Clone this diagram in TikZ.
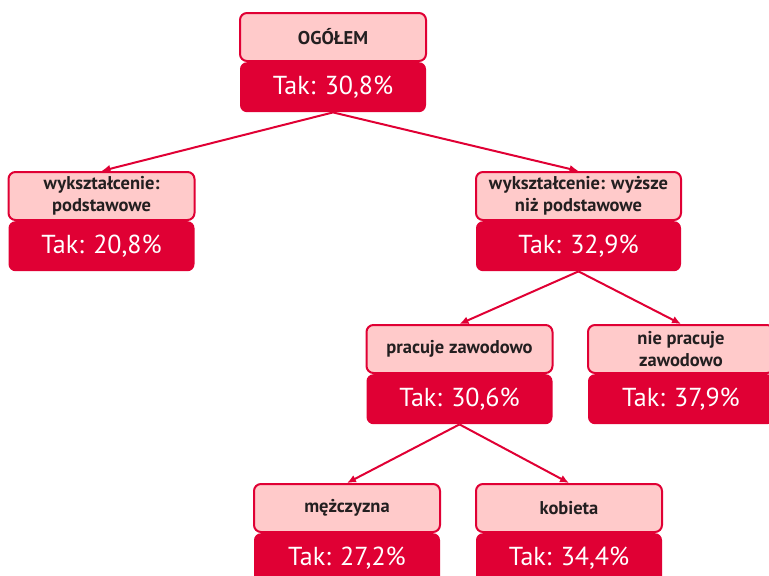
\documentclass[tikz,border=0pt]{standalone}
\usepackage{fontspec}
\setmainfont{PT Sans}
\usetikzlibrary{positioning,arrows.meta}

\definecolor{treered}{HTML}{E00034}
\definecolor{treepink}{HTML}{FFCACA}
\definecolor{treetext}{HTML}{231F20}

\begin{document}
\begin{tikzpicture}[
  x=1pt, y=-1pt,
  lab/.style={rectangle, rounded corners=7pt, draw=treered, line width=2pt,
    fill=treepink, minimum width=186pt, minimum height=48pt, anchor=north,
    inner sep=2pt, align=center, text=treetext,
    font=\bfseries\fontsize{18.5}{22.5}\selectfont},
  val/.style={rectangle, rounded corners=7pt, fill=treered,
    minimum width=186pt, minimum height=50pt, text=white,
    font=\fontsize{26}{30}\selectfont},
  arr/.style={draw=treered, line width=2pt, -{Latex[length=9pt,width=8pt]}}
  ]
\useasboundingbox (0,0) rectangle (769,576);

% top
\node[lab] (ogolem) at (333,12) {OGÓŁEM};
\node[val, below=0pt of ogolem] (ogolem-tak) {Tak: 30,8\%};

% education
\node[lab] (podst) at (101.5,171) {wykształcenie:\\podstawowe};
\node[val, below=0pt of podst] (podst-tak) {Tak: 20,8\%};

\node[lab, minimum width=205pt] (wyzsze) at (578.5,171)
    {wykształcenie: wyższe\\niż podstawowe};
\node[val, minimum width=205pt, below=0pt of wyzsze] (wyzsze-tak) {Tak: 32,9\%};

% work
\node[lab] (pracuje) at (459.5,324) {pracuje zawodowo};
\node[val, below=0pt of pracuje] (pracuje-tak) {Tak: 30,6\%};

\node[lab] (niepracuje) at (681,324) {nie pracuje\\zawodowo};
\node[val, below=0pt of niepracuje] (niepracuje-tak) {Tak: 37,9\%};

% sex
\node[lab] (mezczyzna) at (347,483) {mężczyzna};
\node[val, below=0pt of mezczyzna] (mezczyzna-tak) {Tak: 27,2\%};

\node[lab] (kobieta) at (569,483) {kobieta};
\node[val, below=0pt of kobieta] (kobieta-tak) {Tak: 34,4\%};

% arrows
\draw[arr] (ogolem-tak.south) -- (podst.north);
\draw[arr] (ogolem-tak.south) -- (wyzsze.north);
\draw[arr] (wyzsze-tak.south) -- (pracuje.north);
\draw[arr] (wyzsze-tak.south) -- (niepracuje.north);
\draw[arr] (pracuje-tak.south) -- (mezczyzna.north);
\draw[arr] (pracuje-tak.south) -- (kobieta.north);
\end{tikzpicture}
\end{document}
